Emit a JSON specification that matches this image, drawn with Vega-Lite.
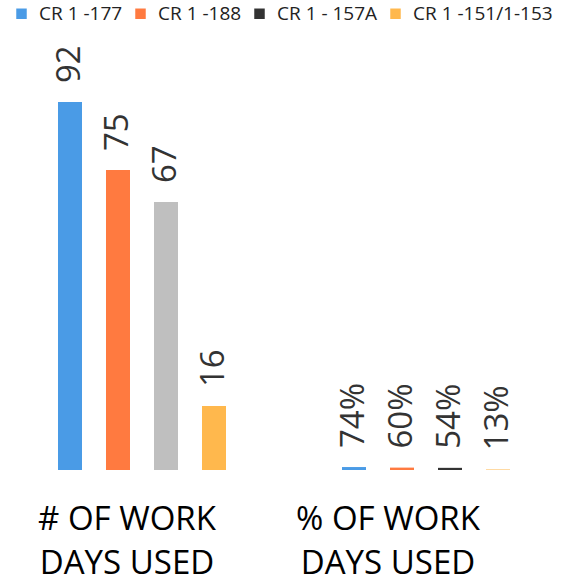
{
  "$schema": "https://vega.github.io/schema/vega-lite/v6.json",
  "width": 568,
  "height": 400,
  "autosize": "none",
  "padding": {"top": 70, "left": 0, "right": 0, "bottom": 114},
  "background": "white",
  "config": {"view": {"stroke": null}, "font": "Open Sans"},
  "data": {
    "values": [
      {"group": "# OF WORK DAYS USED", "series": "CR 1 -177", "value": 92, "label": "92"},
      {"group": "# OF WORK DAYS USED", "series": "CR 1 -188", "value": 75, "label": "75"},
      {"group": "# OF WORK DAYS USED", "series": "CR 1 - 157A", "value": 67, "label": "67"},
      {"group": "# OF WORK DAYS USED", "series": "CR 1 -151/1-153", "value": 16, "label": "16"},
      {"group": "% OF WORK DAYS USED", "series": "CR 1 -177", "value": 0.74, "label": "74%"},
      {"group": "% OF WORK DAYS USED", "series": "CR 1 -188", "value": 0.6, "label": "60%"},
      {"group": "% OF WORK DAYS USED", "series": "CR 1 - 157A", "value": 0.54, "label": "54%"},
      {"group": "% OF WORK DAYS USED", "series": "CR 1 -151/1-153", "value": 0.13, "label": "13%"}
    ]
  },
  "encoding": {
    "x": {
      "field": "group", "type": "nominal", "sort": null,
      "scale": {"paddingInner": 0.0704, "paddingOuter": 0.0352},
      "axis": {
        "title": null, "domain": false, "ticks": false, "labelAngle": 0,
        "labelFontSize": 33, "labelColor": "#000000", "labelFont": "Open Sans",
        "labelPadding": 33, "labelLineHeight": 44, "labelLimit": 400,
        "labelOffset": {"condition": {"test": "datum.value == '# OF WORK DAYS USED'", "value": -15}, "value": -38},
        "labelExpr": "[slice(datum.label, 0, 9), slice(datum.label, 10)]"
      }
    },
    "xOffset": {
      "field": "series", "type": "nominal", "sort": null,
      "scale": {"paddingInner": 0.5, "paddingOuter": 1}
    },
    "y": {"field": "value", "type": "quantitative", "scale": {"domain": [0, 100]}, "axis": null}
  },
  "layer": [
    {
      "mark": {"type": "bar"},
      "encoding": {
        "color": {
          "condition": {"test": "datum.series == 'CR 1 - 157A' && datum.group == '# OF WORK DAYS USED'", "value": "#BFBFBF"},
          "field": "series", "type": "nominal", "sort": null,
          "scale": {
            "domain": ["CR 1 -177", "CR 1 -188", "CR 1 - 157A", "CR 1 -151/1-153"],
            "range": ["#4A9BE6", "#FF7A40", "#333333", "#FFB84D"]
          },
          "legend": {
            "title": null, "orient": "none", "direction": "horizontal",
            "legendX": 12, "legendY": -66, "padding": 0,
            "symbolType": "square", "symbolSize": 110, "symbolOpacity": 1, "symbolStrokeWidth": 0,
            "labelFontSize": 19, "labelFont": "Open Sans", "labelColor": "#222222",
            "labelOffset": 8, "columnPadding": 8, "labelLimit": 300
          }
        }
      }
    },
    {
      "mark": {"type": "text", "angle": -90, "align": "left", "baseline": "middle", "dx": 19, "fontSize": 33, "color": "#333333", "font": "Open Sans"},
      "encoding": {"text": {"field": "label"}}
    }
  ]
}
